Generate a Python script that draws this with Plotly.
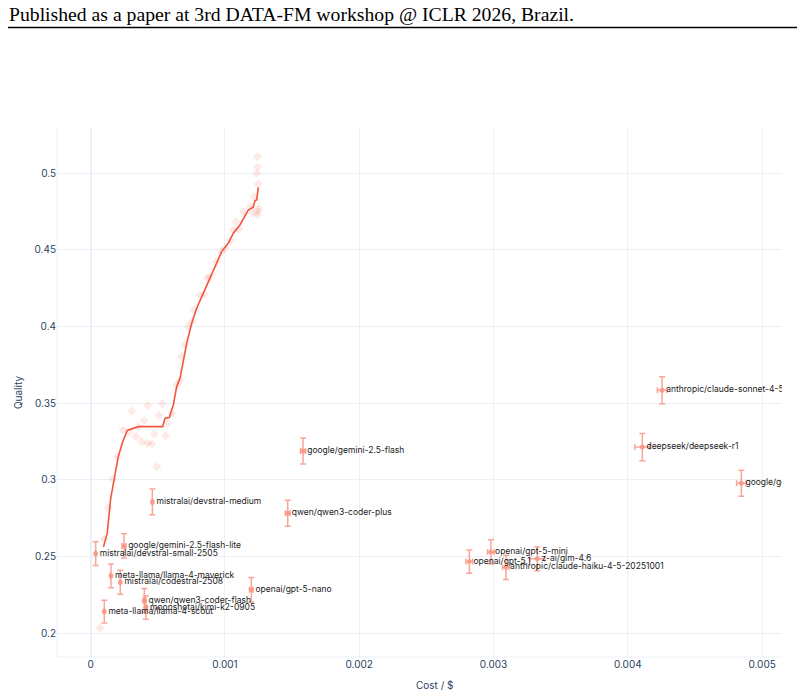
import plotly.graph_objects as go

# ---- labeled models (mean cost / quality with error bars) ----
models = [
    "mistralai/devstral-small-2505", "google/gemini-2.5-flash-lite", "mistralai/devstral-medium",
    "meta-llama/llama-4-maverick", "mistralai/codestral-2508", "qwen/qwen3-coder-flash",
    "moonshotai/kimi-k2-0905", "meta-llama/llama-4-scout", "openai/gpt-5-nano",
    "qwen/qwen3-coder-plus", "google/gemini-2.5-flash", "openai/gpt-5-mini",
    "openai/gpt-5.1", "z-ai/glm-4.6", "anthropic/claude-haiku-4-5-20251001",
    "anthropic/claude-sonnet-4-5", "deepseek/deepseek-r1", "google/gemini-2.5-pro",
]
cost = [0.000038, 0.000249, 0.000460, 0.000152, 0.000221, 0.000400,
        0.000412, 0.000102, 0.001197, 0.001468, 0.001582, 0.002981,
        0.002820, 0.003326, 0.003093, 0.004255, 0.004108, 0.004845]
quality = [0.2519, 0.2569, 0.2856, 0.2374, 0.2332, 0.2213,
           0.2167, 0.2141, 0.2284, 0.2782, 0.3188, 0.2530,
           0.2467, 0.2486, 0.2430, 0.3584, 0.3214, 0.2978]
cost_err = [0.000003, 0.000015, 0.000004, 0.000004, 0.000004, 0.000008,
            0.000008, 0.000003, 0.000014, 0.000018, 0.000019, 0.000025,
            0.000026, 0.000056, 0.000025, 0.000035, 0.000056, 0.000035]
quality_err = [0.0078, 0.0079, 0.0084, 0.0078, 0.0078, 0.0078,
               0.0076, 0.0074, 0.0080, 0.0085, 0.0085, 0.0079,
               0.0076, 0.0078, 0.0079, 0.0088, 0.0089, 0.0085]

# ---- faint background samples (diamonds) ----
sample_cost = [0.000070, 0.000100, 0.000132, 0.000165, 0.000197, 0.000243, 0.000288,
               0.000306, 0.000338, 0.000355, 0.000379, 0.000399, 0.000425, 0.000425,
               0.000455, 0.000474, 0.000494, 0.000509, 0.000534, 0.000558, 0.000574,
               0.000604, 0.000641, 0.000666, 0.000678, 0.000703, 0.000727, 0.000751,
               0.000770, 0.000815, 0.000847, 0.000870, 0.000889, 0.000939, 0.000976,
               0.001001, 0.001043, 0.001063, 0.001083, 0.001103, 0.001137, 0.001191,
               0.001218, 0.001211, 0.001243, 0.001243, 0.001237, 0.001249, 0.001249,
               0.001244, 0.001246]
sample_quality = [0.2033, 0.2613, 0.2820, 0.3004, 0.3151, 0.3325, 0.3310,
                  0.3449, 0.3282, 0.3347, 0.3249, 0.3387, 0.3487, 0.3239,
                  0.3234, 0.3299, 0.3086, 0.3419, 0.3498, 0.3288, 0.3369,
                  0.3432, 0.3619, 0.3648, 0.3803, 0.3880, 0.3999, 0.4029,
                  0.4108, 0.4202, 0.4210, 0.4316, 0.4321, 0.4422, 0.4488,
                  0.4510, 0.4564, 0.4629, 0.4683, 0.4634, 0.4748, 0.4782,
                  0.4846, 0.4738, 0.5107, 0.5040, 0.4999, 0.4929, 0.4771,
                  0.4730, 0.4753]

# ---- frontier line ----
front_cost = [0.0000961, 0.000124, 0.000150, 0.000206, 0.000239, 0.000273, 0.000355,
              0.000537, 0.000554, 0.000586, 0.000616, 0.000641, 0.000666, 0.000716,
              0.000753, 0.000790, 0.000839, 0.000914, 0.000976, 0.001025, 0.001063,
              0.001112, 0.001137, 0.001174, 0.001211, 0.001224, 0.001237, 0.001249]
front_quality = [0.2563, 0.2652, 0.2880, 0.3151, 0.3249, 0.3322, 0.3347,
                 0.3347, 0.3402, 0.3406, 0.3488, 0.3608, 0.3662, 0.3891,
                 0.4021, 0.4119, 0.4216, 0.4368, 0.4488, 0.4542, 0.4608,
                 0.4662, 0.4705, 0.4759, 0.4777, 0.4820, 0.4825, 0.4907]

x_ticks = [0, 0.001, 0.002, 0.003, 0.004, 0.005]
x_tick_text = ["0", "0.001", "0.002", "0.003", "0.004", "0.005"]
y_ticks = [0.2, 0.25, 0.3, 0.35, 0.4, 0.45, 0.5]
y_tick_text = ["0.2", "0.25", "0.3", "0.35", "0.4", "0.45", "0.5"]

header = "Published as a paper at 3rd DATA-FM workshop @ ICLR 2026, Brazil."
x_title = "Cost / $"

salmon = "rgba(248,150,135,0.85)"
grid = "#EBF0F8"

# plot area in pixels: x 57..782, y 128..657
PL, PR, PT, PB = 57, 782, 128, 657
W, H = 804, 696
pw, ph = PR - PL, PB - PT

def px(xp):
    return (xp - PL) / pw

def py(yp):
    return (PB - yp) / ph

fig = go.Figure()
fig.add_trace(go.Scatter(
    x=sample_cost, y=sample_quality, mode="markers",
    marker=dict(symbol="diamond", size=7, color="rgba(239,85,59,0.13)"),
    showlegend=False, hoverinfo="skip"))
fig.add_trace(go.Scatter(
    x=front_cost, y=front_quality, mode="lines",
    line=dict(color="#F4553F", width=1.6),
    showlegend=False))
fig.add_trace(go.Scatter(
    x=cost, y=quality, mode="markers+text", text=models,
    textposition="middle right",
    textfont=dict(family="Inter, sans-serif", size=8.5, color="#1a1a1a"),
    marker=dict(size=5, color=salmon),
    error_y=dict(type="data", array=quality_err, color=salmon, thickness=1.5, width=3),
    error_x=dict(type="data", array=cost_err, color=salmon, thickness=1.5, width=3),
    cliponaxis=True, showlegend=False))

fig.update_layout(
    template="plotly_white",
    width=W, height=H,
    margin=dict(l=PL, r=W - PR, t=PT, b=H - PB),
    font=dict(family="Inter, sans-serif", size=10, color="#2a3f5f"),
    xaxis=dict(range=[-0.000250, 0.005148], tickvals=x_ticks, ticktext=x_tick_text,
               showline=False, mirror=False, gridcolor=grid,
               zeroline=True, zerolinecolor=grid, zerolinewidth=2),
    yaxis=dict(range=[0.1845, 0.5294], tickvals=y_ticks, ticktext=y_tick_text,
               title=dict(text="Quality", font=dict(size=10), standoff=10),
               showline=False, mirror=False, gridcolor=grid,
               zeroline=False),
    annotations=[
        dict(text=header, xref="paper", yref="paper",
             x=px(7), y=py(14), xanchor="left", yanchor="middle",
             showarrow=False,
             font=dict(family="Liberation Serif, Times New Roman, serif", size=19.7, color="black")),
        dict(text=x_title, xref="paper", yref="paper",
             x=px(435), y=py(685), xanchor="center", yanchor="middle",
             showarrow=False, font=dict(size=10, color="#2a3f5f")),
    ],
    shapes=[
        dict(type="line", xref="paper", yref="paper",
             x0=px(8), x1=px(797), y0=py(27.5), y1=py(27.5),
             line=dict(color="black", width=1.3)),
        dict(type="line", xref="paper", yref="paper", layer="below",
             x0=0, x1=0, y0=0, y1=1, line=dict(color=grid, width=1)),
        dict(type="line", xref="paper", yref="paper", layer="below",
             x0=0, x1=1, y0=0, y1=0, line=dict(color=grid, width=1)),
    ],
)

fig.write_html("out.html")
